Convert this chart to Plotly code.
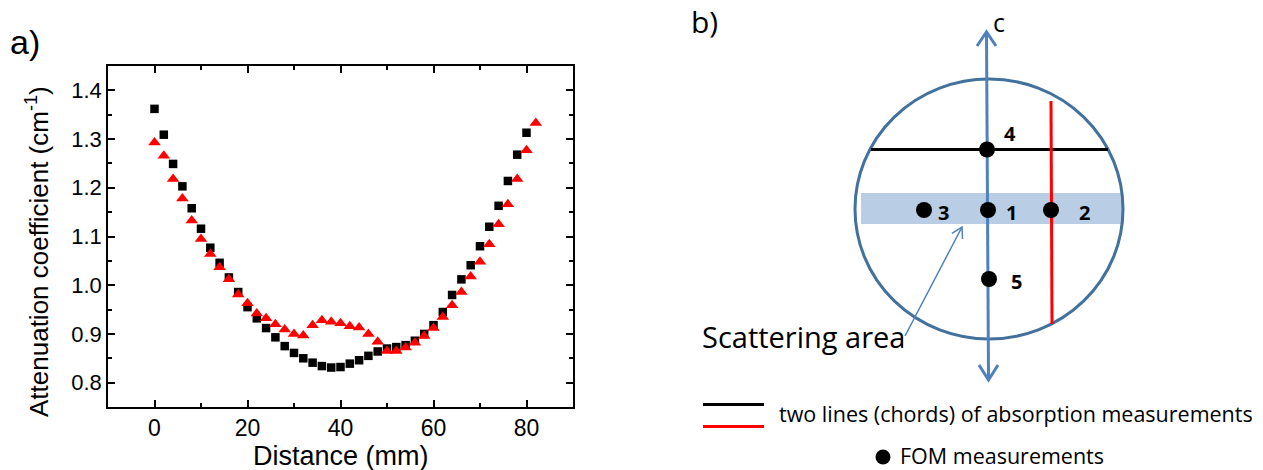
import math
import plotly.graph_objects as go

# ---------------- data (panel a) ----------------
distance_black = [0, 2, 4, 6, 8, 10, 12, 14, 16, 18, 20, 22, 24, 26, 28, 30, 32, 34, 36, 38,
                  40, 42, 44, 46, 48, 50, 52, 54, 56, 58, 60, 62, 64, 66, 68, 70, 72, 74, 76, 78, 80]
atten_black = [1.362, 1.309, 1.249, 1.203, 1.158, 1.116, 1.077, 1.046, 1.016, 0.986, 0.955,
               0.932, 0.912, 0.893, 0.875, 0.861, 0.850, 0.841, 0.834, 0.831, 0.832, 0.839,
               0.846, 0.855, 0.864, 0.870, 0.873, 0.877, 0.886, 0.900, 0.918, 0.945, 0.980,
               1.012, 1.041, 1.080, 1.120, 1.163, 1.214, 1.268, 1.313]

distance_red = [0, 2, 4, 6, 8, 10, 12, 14, 16, 18, 20, 22, 24, 26, 28, 30, 32, 34, 36, 38,
                40, 42, 44, 46, 48, 50, 52, 54, 56, 58, 60, 62, 64, 66, 68, 70, 72, 74, 76, 78,
                80, 82]
atten_red = [1.293, 1.266, 1.218, 1.178, 1.133, 1.095, 1.064, 1.037, 1.012, 0.981, 0.963,
             0.942, 0.932, 0.920, 0.909, 0.900, 0.897, 0.918, 0.928, 0.925, 0.922, 0.916,
             0.913, 0.900, 0.884, 0.865, 0.865, 0.872, 0.882, 0.896, 0.912, 0.935, 0.959,
             0.986, 1.018, 1.048, 1.084, 1.125, 1.166, 1.218, 1.277, 1.333]

x_ticks = [0, 20, 40, 60, 80]
y_ticks = [0.8, 0.9, 1.0, 1.1, 1.2, 1.3, 1.4]

# ---------------- diagram (panel b) labels ----------------
fom_labels = ["4", "3", "1", "2", "5"]

W, H = 1263, 470
ARIAL = "Liberation Sans, Arial, sans-serif"
SANS = "Open Sans, sans-serif"
BLUE = "#4F81BD"
DARKBLUE = "#41719C"

fig = go.Figure()
fig.add_trace(go.Scatter(x=distance_black, y=atten_black, mode="markers",
                         marker=dict(symbol="square", size=8.5, color="black"),
                         showlegend=False))
fig.add_trace(go.Scatter(x=distance_red, y=atten_red, mode="markers",
                         marker=dict(symbol="triangle-up", size=11, color="red"),
                         showlegend=False))

shapes = []
def S(**kw):
    d = dict(xref="x2", yref="y2")
    d.update(kw)
    shapes.append(d)

# scattering band
S(type="rect", x0=861, x1=1122, y0=193, y1=224, fillcolor="#B9CDE5", line=dict(width=0))
# circle
S(type="circle", x0=855, x1=1123, y0=79, y1=339, line=dict(color=DARKBLUE, width=3))
# black chord
S(type="line", x0=871, x1=1108, y0=149.5, y1=149.5, line=dict(color="black", width=3))
# red chord
S(type="line", x0=1051, x1=1052, y0=101, y1=324, line=dict(color="red", width=3))
# c axis (double arrow)
S(type="line", x0=986.5, x1=988.5, y0=33, y1=379, line=dict(color=BLUE, width=3))
S(type="path", path="M 977,46 L 986.5,32 L 996,46", line=dict(color=BLUE, width=3))
S(type="path", path="M 979,365 L 988.5,380 L 998,365", line=dict(color=BLUE, width=3))
# scattering-area pointer
tx, ty, hx, hy = 905, 336, 962, 227
ang = math.atan2(hy - ty, hx - tx)
L = 12
w1 = (hx - L * math.cos(ang - math.radians(30)), hy - L * math.sin(ang - math.radians(30)))
w2 = (hx - L * math.cos(ang + math.radians(30)), hy - L * math.sin(ang + math.radians(30)))
S(type="line", x0=tx, y0=ty, x1=hx, y1=hy, line=dict(color=BLUE, width=1.5))
S(type="path", path=f"M {w1[0]:.1f},{w1[1]:.1f} L {hx},{hy} L {w2[0]:.1f},{w2[1]:.1f}",
  line=dict(color=BLUE, width=1.5))
# legend lines
S(type="line", x0=703, x1=764, y0=404.5, y1=404.5, line=dict(color="black", width=3))
S(type="line", x0=703, x1=764, y0=426.5, y1=426.5, line=dict(color="red", width=3))
# FOM points
fom_x = [987, 924, 988, 1051, 989, 883]
fom_y = [149.5, 210, 210, 210, 279, 457]
fom_d = [16, 16, 16, 16, 16, 15]
for cx, cy, d in zip(fom_x, fom_y, fom_d):
    S(type="circle", x0=cx - d / 2, x1=cx + d / 2, y0=cy - d / 2, y1=cy + d / 2,
      fillcolor="black", line=dict(width=0))

annotations = []
def txt(x, y, s, size, font=SANS, xanchor="center", yanchor="middle", angle=0, bold=False):
    annotations.append(dict(xref="x2", yref="y2", x=x, y=y, text=(f"<b>{s}</b>" if bold else s),
                            showarrow=False, xanchor=xanchor, yanchor=yanchor, textangle=angle,
                            borderpad=0,
                            font=dict(family=font, size=size, color="black")))

txt(9, 42, "a)", 34, font=ARIAL, xanchor="left")
txt(37, 252, "Attenuation coefficient (cm<sup>-1</sup>)", 26, font=ARIAL, angle=-90)
txt(341, 456, "Distance (mm)", 27, font=ARIAL)

txt(690, 21, "b)", 30, xanchor="left")
txt(999, 22, "c", 25)
label_pos = [(1010, 133), (943, 212), (1011, 212), (1084, 212), (1016, 281)]
for (lx, ly), s in zip(label_pos, fom_labels):
    txt(lx, ly, s, 20, bold=True)
txt(701, 336, "Scattering area", 29, xanchor="left")
txt(778, 413, "two lines (chords) of absorption measurements", 21.5, xanchor="left")
txt(899, 455.5, "FOM measurements", 21.5, xanchor="left")

fig.update_layout(
    width=W, height=H, margin=dict(l=0, r=0, t=0, b=0),
    paper_bgcolor="white", plot_bgcolor="rgba(0,0,0,0)",
    shapes=shapes, annotations=annotations, showlegend=False,
    xaxis=dict(domain=[108 / W, 573 / W], range=[-10, 90], tickvals=x_ticks,
               ticks="inside", ticklen=7, tickwidth=1.5, tickcolor="black",
               showline=True, linewidth=1.5, linecolor="black", mirror="ticks",
               minor=dict(dtick=10, tick0=0, ticks="inside", ticklen=4, tickwidth=1.5,
                          tickcolor="black", showgrid=False),
               showgrid=False, zeroline=False,
               tickfont=dict(family=ARIAL, size=23, color="black")),
    yaxis=dict(domain=[1 - 407 / H, 1 - 66 / H], range=[0.75, 1.45], tickvals=y_ticks,
               tickformat=".1f", ticks="inside", ticklen=7, tickwidth=1.5, tickcolor="black",
               showline=True, linewidth=1.5, linecolor="black", mirror="ticks",
               minor=dict(dtick=0.05, tick0=0.75, ticks="inside", ticklen=4, tickwidth=1.5,
                          tickcolor="black", showgrid=False),
               showgrid=False, zeroline=False,
               tickfont=dict(family=ARIAL, size=22, color="black")),
    xaxis2=dict(domain=[0, 1], range=[0, W], visible=False, anchor="y2", fixedrange=True),
    yaxis2=dict(domain=[0, 1], range=[H, 0], visible=False, anchor="x2", fixedrange=True),
)

fig.write_html("out.html")
